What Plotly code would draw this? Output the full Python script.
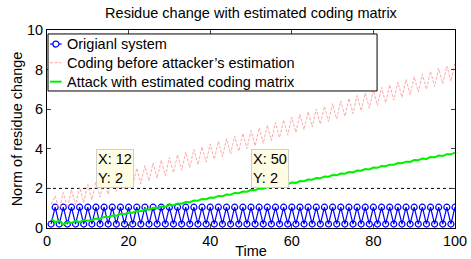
import plotly.graph_objects as go

time = list(range(1, 101))

original_system = [
    0.2, 1.05, 0.2, 1.05, 0.2, 1.05, 0.2, 1.05, 0.2, 1.05,
    0.2, 1.05, 0.2, 1.05, 0.2, 1.05, 0.2, 1.05, 0.2, 1.05,
    0.2, 1.05, 0.2, 1.05, 0.2, 1.05, 0.2, 1.05, 0.2, 1.05,
    0.2, 1.05, 0.2, 1.05, 0.2, 1.05, 0.2, 1.05, 0.2, 1.05,
    0.2, 1.05, 0.2, 1.05, 0.2, 1.05, 0.2, 1.05, 0.2, 1.05,
    0.2, 1.05, 0.2, 1.05, 0.2, 1.05, 0.2, 1.05, 0.2, 1.05,
    0.2, 1.05, 0.2, 1.05, 0.2, 1.05, 0.2, 1.05, 0.2, 1.05,
    0.2, 1.05, 0.2, 1.05, 0.2, 1.05, 0.2, 1.05, 0.2, 1.05,
    0.2, 1.05, 0.2, 1.05, 0.2, 1.05, 0.2, 1.05, 0.2, 1.05,
    0.2, 1.05, 0.2, 1.05, 0.2, 1.05, 0.2, 1.05, 0.2, 1.05,
]

coding_before = [
    1.20, 1.62, 0.90, 1.79, 1.02, 1.93, 1.16, 2.06, 1.29, 2.20,
    1.43, 2.34, 1.56, 2.47, 1.70, 2.61, 1.84, 2.74, 1.97, 2.88,
    2.11, 3.02, 2.24, 3.15, 2.38, 3.29, 2.52, 3.42, 2.65, 3.56,
    2.79, 3.70, 2.92, 3.83, 3.06, 3.97, 3.20, 4.10, 3.33, 4.24,
    3.47, 4.38, 3.60, 4.51, 3.74, 4.65, 3.88, 4.78, 4.01, 4.92,
    4.15, 5.06, 4.28, 5.19, 4.42, 5.33, 4.56, 5.46, 4.69, 5.60,
    4.83, 5.74, 4.96, 5.87, 5.10, 6.01, 5.24, 6.14, 5.37, 6.28,
    5.51, 6.42, 5.64, 6.55, 5.78, 6.69, 5.92, 6.82, 6.05, 6.96,
    6.19, 7.10, 6.32, 7.23, 6.46, 7.37, 6.60, 7.50, 6.73, 7.64,
    6.87, 7.78, 7.00, 7.91, 7.14, 8.05, 7.28, 8.18, 7.41, 8.32,
]

attack_estimated = [
    0.48, 0.30, 0.36, 0.18, 0.30, 0.25, 0.36, 0.30, 0.40, 0.37,
    0.39, 0.48, 0.47, 0.56, 0.55, 0.63, 0.62, 0.71, 0.70, 0.78,
    0.77, 0.86, 0.85, 0.94, 0.92, 1.01, 1.00, 1.09, 1.07, 1.16,
    1.15, 1.24, 1.23, 1.31, 1.30, 1.39, 1.38, 1.46, 1.45, 1.54,
    1.53, 1.62, 1.60, 1.69, 1.68, 1.77, 1.76, 1.84, 1.83, 1.92,
    1.91, 1.99, 1.98, 2.07, 2.06, 2.15, 2.13, 2.22, 2.21, 2.30,
    2.28, 2.37, 2.36, 2.45, 2.44, 2.52, 2.51, 2.60, 2.59, 2.67,
    2.66, 2.75, 2.74, 2.83, 2.81, 2.90, 2.89, 2.98, 2.96, 3.05,
    3.04, 3.13, 3.12, 3.20, 3.19, 3.28, 3.27, 3.35, 3.34, 3.43,
    3.42, 3.51, 3.49, 3.58, 3.57, 3.66, 3.64, 3.73, 3.72, 3.81,
]

series_names = [
    "Origianl system",
    "Coding before attacker\u2019s estimation",
    "Attack with estimated coding matrix",
]

threshold_x = [0, 100]
threshold_y = [2, 2]

datatip_x = [12, 50]
datatip_y = [2, 2]

x_ticks = [0, 20, 40, 60, 80, 100]
y_ticks = [0, 2, 4, 6, 8, 10]

FONT = "Liberation Sans, Arial, Helvetica, sans-serif"
FS = 14.5

BLUE = "#0000ff"
PINK = "#ffa8a8"
GREEN = "#00f000"
PINK_DASH = "3px,1.5px"

fig = go.Figure()

fig.add_trace(go.Scatter(
    x=threshold_x, y=threshold_y, mode="lines",
    line=dict(color="black", width=1, dash="dot"),
    showlegend=False, hoverinfo="skip",
))

fig.add_trace(go.Scatter(
    x=time, y=original_system, mode="lines+markers",
    name=series_names[0], showlegend=False,
    line=dict(color=BLUE, width=1.2),
    marker=dict(symbol="circle-open", size=6, color=BLUE,
                line=dict(width=1.2, color=BLUE)),
))

fig.add_trace(go.Scatter(
    x=time, y=coding_before, mode="lines",
    name=series_names[1], showlegend=False,
    line=dict(color=PINK, width=1, dash=PINK_DASH),
))

fig.add_trace(go.Scatter(
    x=time, y=attack_estimated, mode="lines",
    name=series_names[2], showlegend=False,
    line=dict(color=GREEN, width=2),
))

# data tips
for xv, yv in zip(datatip_x, datatip_y):
    fig.add_annotation(
        x=xv, y=yv, xref="x", yref="y",
        text=f"X: {xv}<br>Y: {yv}",
        showarrow=False, xanchor="left", yanchor="bottom", align="left",
        bgcolor="#fffde4", bordercolor="#cfcfcf", borderwidth=1, borderpad=1,
        font=dict(family=FONT, size=FS, color="black"),
    )

# legend box (MATLAB style), in paper coordinates
shapes = [dict(type="rect", xref="paper", yref="paper",
               x0=0.0025, x1=0.809, y0=0.692, y1=0.980,
               line=dict(color="black", width=1), fillcolor="white",
               layer="above")]
row_y = [0.929, 0.835, 0.739]
sx0, sx1 = 0.0075, 0.036
shapes.append(dict(type="line", xref="paper", yref="paper",
                   x0=sx0, x1=sx1, y0=row_y[0], y1=row_y[0],
                   line=dict(color=BLUE, width=1.2), layer="above"))
cx, rx, ry = (sx0 + sx1) / 2, 3.0 / 408, 3.0 / 198
shapes.append(dict(type="circle", xref="paper", yref="paper",
                   x0=cx - rx, x1=cx + rx, y0=row_y[0] - ry, y1=row_y[0] + ry,
                   line=dict(color=BLUE, width=1.2), fillcolor="white",
                   layer="above"))
shapes.append(dict(type="line", xref="paper", yref="paper",
                   x0=sx0, x1=sx1, y0=row_y[1], y1=row_y[1],
                   line=dict(color=PINK, width=1, dash=PINK_DASH),
                   layer="above"))
shapes.append(dict(type="line", xref="paper", yref="paper",
                   x0=sx0, x1=sx1, y0=row_y[2], y1=row_y[2],
                   line=dict(color=GREEN, width=2), layer="above"))
for name, yv in zip(series_names, row_y):
    fig.add_annotation(
        x=0.043, y=yv, xref="paper", yref="paper", text=name,
        showarrow=False, xanchor="left", yanchor="middle",
        font=dict(family=FONT, size=FS, color="black"),
    )

fig.update_layout(
    width=471, height=259,
    margin=dict(l=47, r=16, t=30, b=31),
    paper_bgcolor="white", plot_bgcolor="white",
    font=dict(family=FONT, size=FS, color="black"),
    title=dict(text="Residue change with estimated coding matrix",
               x=0.5, xref="paper", xanchor="center",
               y=0.95, yref="container", yanchor="middle",
               automargin=False,
               font=dict(family=FONT, size=FS, color="black")),
    showlegend=False,
    shapes=shapes,
    xaxis=dict(range=[0, 100], tickvals=x_ticks, ticks="inside", ticklen=4,
               showline=True, linecolor="black", linewidth=1, mirror="ticks",
               showgrid=False, zeroline=False, automargin=False,
               tickfont=dict(family=FONT, size=FS),
               title=dict(text="Time", standoff=0,
                          font=dict(family=FONT, size=FS))),
    yaxis=dict(range=[0, 10], tickvals=y_ticks, ticks="inside", ticklen=4,
               showline=True, linecolor="black", linewidth=1, mirror="ticks",
               showgrid=False, zeroline=False, automargin=False,
               tickfont=dict(family=FONT, size=FS),
               title=dict(text="Norm of residue change", standoff=0,
                          font=dict(family=FONT, size=FS))),
)

fig.write_html(
    "out.html",
    config={"displayModeBar": False, "staticPlot": True},
    post_script="document.body.style.margin='0px';document.body.style.overflow='hidden';",
)
